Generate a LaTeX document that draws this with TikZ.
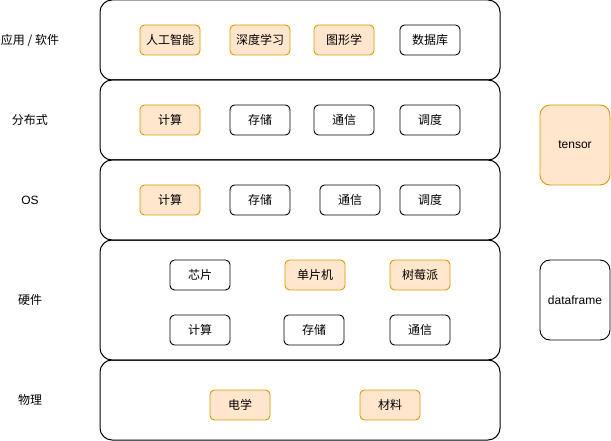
\documentclass[tikz,border=0pt]{standalone}
\usepackage{fontspec}
\setmainfont{Liberation Sans}
\newfontfamily\cjk{Noto Sans CJK SC}
\definecolor{hotfill}{HTML}{FFE6CC}
\definecolor{hotline}{HTML}{D79B00}

\begin{document}
\begin{tikzpicture}[
    x=1pt, y=-1pt, % pixel-like units, y going down
    layer/.style = {draw, line width=1pt, rounded corners=12pt, minimum width=400pt, minimum height=80pt, inner sep=0pt},
    blk/.style   = {draw, line width=0.9pt, rounded corners=4.5pt, minimum width=60pt, minimum height=30pt, inner sep=0pt, font=\cjk\fontsize{12}{14}\selectfont},
    hot/.style   = {blk, fill=hotfill, draw=hotline},
    side/.style  = {draw, line width=0.9pt, rounded corners=10pt, minimum width=70pt, minimum height=80pt, inner sep=0pt, font=\fontsize{12}{14}\selectfont},
    lab/.style   = {font=\cjk\fontsize{12}{14}\selectfont}
  ]
  \useasboundingbox (0,0) rectangle (611,441);

  % ===== Layers =====
  \node[layer] (Lapp)  at (300,40)  {};
  \node[layer] (Ldist) at (300,120) {};
  \node[layer] (Los)   at (300,200) {};
  \node[layer, minimum height=120pt] (Lhw) at (300,300) {};
  \node[layer] (Lphy)  at (300,400) {};

  % layer names on the left
  \node[lab] (nApp)  at (30,40)  {应用 / 软件};
  \node[lab] (nDist) at (30,120) {分布式};
  \node[lab, font=\fontsize{12}{14}\selectfont] (nOs) at (30,200) {OS};
  \node[lab] (nHw)   at (30,300) {硬件};
  \node[lab] (nPhy)  at (30,400) {物理};

  % ===== Application / software =====
  \foreach \i/\x/\txt/\st in {1/170/人工智能/hot, 2/260/深度学习/hot, 3/344/图形学/hot, 4/430/数据库/blk}{
    \node[\st] (app\i) at (\x,40) {\txt};
  }

  % ===== Distributed =====
  \foreach \i/\x/\txt/\st in {1/170/计算/hot, 2/260/存储/blk, 3/344/通信/blk, 4/430/调度/blk}{
    \node[\st] (dist\i) at (\x,120) {\txt};
  }

  % ===== OS =====
  \foreach \i/\x/\txt/\st in {1/170/计算/hot, 2/260/存储/blk, 3/350/通信/blk, 4/430/调度/blk}{
    \node[\st] (os\i) at (\x,200) {\txt};
  }

  % ===== Hardware (two rows) =====
  \foreach \i/\x/\txt/\st in {1/200/芯片/blk, 2/315/单片机/hot, 3/420/树莓派/hot}{
    \node[\st] (hwA\i) at (\x,275) {\txt};
  }
  \foreach \i/\x/\txt/\st in {1/200/计算/blk, 2/314/存储/blk, 3/420/通信/blk}{
    \node[\st] (hwB\i) at (\x,330) {\txt};
  }

  % ===== Physics =====
  \node[hot] (phy1) at (240,405) {电学};
  \node[hot] (phy2) at (390,405) {材料};

  % ===== Data types on the right =====
  \node[side, fill=hotfill, draw=hotline] (tensor) at (575,145) {tensor};
  \node[side] (dataframe) at (575,300) {dataframe};

\end{tikzpicture}
\end{document}
